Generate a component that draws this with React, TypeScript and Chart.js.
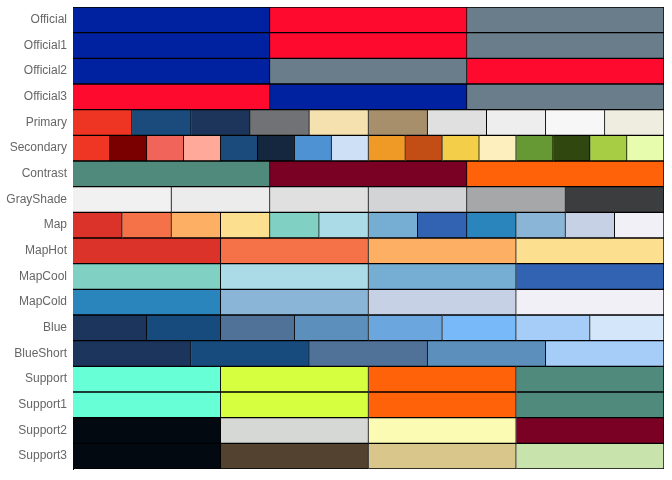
import React, { useEffect, useRef } from "react";
import { Chart, registerables } from "chart.js";

Chart.register(...registerables);

const rowLabels = [
  "Official", "Official1", "Official2", "Official3", "Primary", "Secondary", "Contrast", "GrayShade",
  "Map", "MapHot", "MapCool", "MapCold", "Blue", "BlueShort", "Support", "Support1", "Support2", "Support3",
];

const official = ["#0021a0", "#ff0a2f", "#697d8a"];
const official1 = ["#0021a0", "#ff0a2f", "#697d8a"];
const official2 = ["#0021a0", "#697d8a", "#ff0a2f"];
const official3 = ["#ff0a2f", "#0021a0", "#697d8a"];
const primary = ["#ee3524", "#1a4b7c", "#1d355a", "#717275", "#f5e1b0", "#a78f6c", "#e0e0e0", "#eeeeee", "#f7f7f7", "#efece0"];
const secondary = ["#ef3624", "#7a0000", "#f0645a", "#ffa99b", "#1a4b7c", "#15273f", "#4f92d4", "#cde0f5", "#ef9a27", "#c34e15", "#f3cf49", "#fdefbe", "#669933", "#304710", "#a6cd43", "#e8fcae"];
const contrast = ["#4f8a7c", "#7a0024", "#ff6209"];
const grayShade = ["#f1f1f1", "#ececec", "#e0e0e0", "#d3d4d5", "#a6a7a9", "#3c3d3f"];
const mapColors = ["#db322a", "#f57147", "#fdb064", "#fde08f", "#80d0c3", "#abdbe7", "#76aed3", "#3263b2", "#2985bc", "#8ab5d6", "#c7d1e5", "#f1f0f7"];
const mapHot = ["#db322a", "#f57147", "#fdb064", "#fde08f"];
const mapCool = ["#80d0c3", "#abdbe7", "#76aed3", "#3263b2"];
const mapCold = ["#2985bc", "#8ab5d6", "#c7d1e5", "#f1f0f7"];
const blue = ["#1c355c", "#184b7d", "#517298", "#5c8fbc", "#6ba7de", "#78b9fa", "#a5cdf8", "#d4e6f9"];
const blueShort = ["#1c355c", "#184b7d", "#517298", "#5c8fbc", "#a5cdf8"];
const support = ["#66ffd6", "#d6ff3f", "#ff6209", "#4f8a7c"];
const support1 = ["#66ffd6", "#d6ff3f", "#ff6209", "#4f8a7c"];
const support2 = ["#020911", "#d6d8d5", "#fcfbb3", "#7a0024"];
const support3 = ["#020911", "#544230", "#d8c68a", "#c9e3ad"];

const palettes = [
  official, official1, official2, official3, primary, secondary, contrast, grayShade,
  mapColors, mapHot, mapCool, mapCold, blue, blueShort, support, support1, support2, support3,
];

export default function App() {
  const ref = useRef<HTMLCanvasElement>(null);
  useEffect(() => {
    document.body.style.margin = "0";
    const maxN = Math.max(...palettes.map((p) => p.length));
    const datasets = [];
    for (let i = 0; i < maxN; i++) {
      datasets.push({
        label: "s" + i,
        data: palettes.map((p) => (i < p.length ? 1 / p.length : null)),
        backgroundColor: palettes.map((p) => p[i] || "transparent"),
        borderColor: "#000000",
        borderWidth: 1,
        barPercentage: 1,
        categoryPercentage: 1,
      });
    }
    const chart = new Chart(ref.current!, {
      type: "bar",
      data: { labels: rowLabels, datasets },
      options: {
        indexAxis: "y",
        animation: false,
        responsive: false,
        layout: { padding: { top: 0, right: 8, bottom: 11, left: 0 } },
        plugins: { legend: { display: false }, tooltip: { enabled: false } },
        scales: {
          x: { stacked: true, min: 0, max: 1, display: false },
          y: {
            stacked: true,
            grid: { display: false, tickLength: 6 },
            border: { display: true, color: "#000" },
            ticks: { color: "#666", font: { size: 12 }, padding: 0 },
            afterFit: (s: any) => {
              s.width = 73;
              s.paddingTop = 7;
              s.paddingBottom = 0;
            },
          },
        },
      },
    });
    return () => chart.destroy();
  }, []);
  return <canvas ref={ref} width={672} height={480} style={{ display: "block" }} />;
}
